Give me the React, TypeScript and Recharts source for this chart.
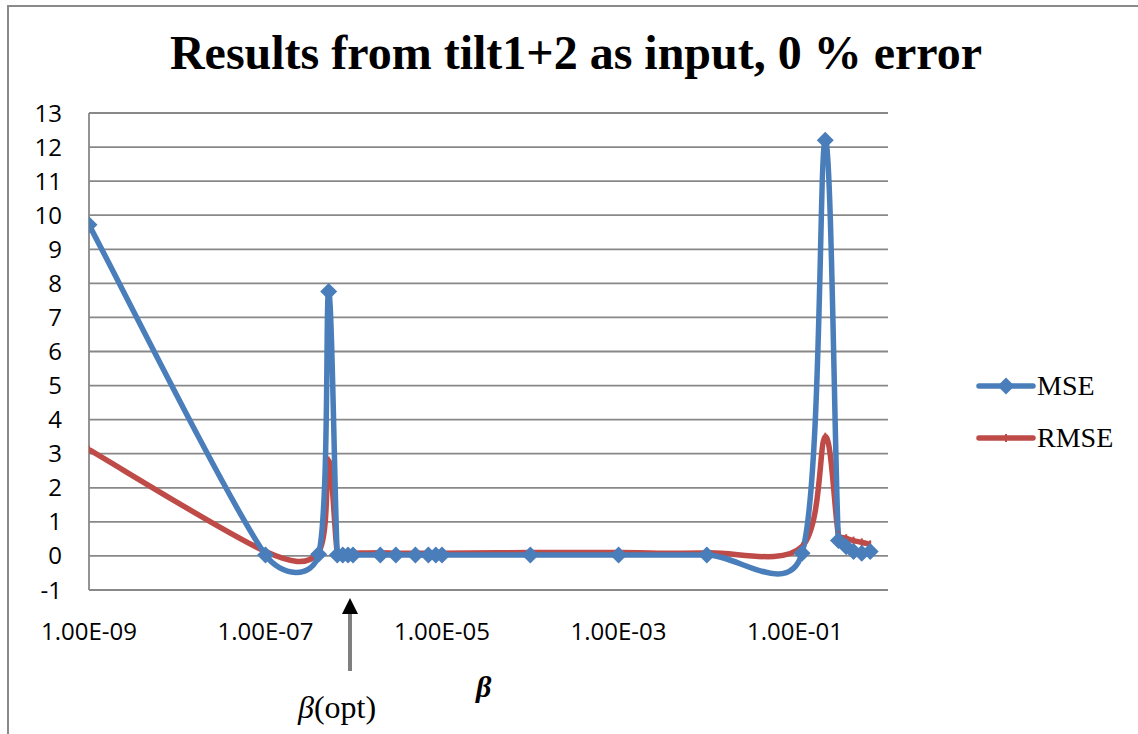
import { CartesianGrid, Line, LineChart, XAxis, YAxis } from 'recharts';

const betas = [
  1e-9, 1e-7, 4e-7, 5.2e-7, 6.5e-7, 7.5e-7, 8.6e-7, 9.8e-7, 2e-6, 3e-6, 5e-6, 7e-6, 8.5e-6, 1e-5,
  1e-4, 1e-3, 1e-2, 0.12, 0.22, 0.31, 0.38, 0.46, 0.57, 0.71,
];
const mseValues = [
  9.72, 0.03, 0.05, 7.76, 0.03, 0.03, 0.03, 0.03, 0.03, 0.03, 0.03, 0.03, 0.03, 0.03,
  0.03, 0.03, 0.03, 0.08, 12.2, 0.45, 0.27, 0.13, 0.08, 0.13,
];
const rmseValues = [
  3.12, 0.13, 0.12, 2.8, 0.08, 0.08, 0.08, 0.08, 0.09, 0.08, 0.08, 0.08, 0.08, 0.08,
  0.1, 0.1, 0.09, 0.28, 3.5, 0.62, 0.52, 0.45, 0.4, 0.34,
];
const xTicks = [1e-9, 1e-7, 1e-5, 1e-3, 1e-1];
const yTicks = [-1, 0, 1, 2, 3, 4, 5, 6, 7, 8, 9, 10, 11, 12, 13];

const data = betas.map((beta, i) => ({ beta, mse: mseValues[i], rmse: rmseValues[i] }));

const blue = '#4a7ebb';
const red = '#be4b48';
const gridColor = '#888888';
const tickFont = { fontFamily: '"Open Sans", sans-serif', fontSize: 24, fill: '#000' };

// excel style smoothing: cardinal bezier, arms capped at half the segment
function excelSmooth(context: any) {
  let pts: number[][] = [];
  const dist = (a: number[], b: number[]) => Math.hypot(b[0] - a[0], b[1] - a[1]);
  return {
    areaStart() {},
    areaEnd() {},
    lineStart() {
      pts = [];
    },
    point(x: number, y: number) {
      pts.push([+x, +y]);
    },
    lineEnd() {
      const n = pts.length;
      if (!n) return;
      context.moveTo(pts[0][0], pts[0][1]);
      for (let i = 0; i < n - 1; i++) {
        const p0 = pts[Math.max(0, i - 1)];
        const p1 = pts[i];
        const p2 = pts[i + 1];
        const p3 = pts[Math.min(n - 1, i + 2)];
        const d12 = dist(p1, p2);
        const d02 = dist(p0, p2);
        const d13 = dist(p1, p3);
        const f1 = d02 > 0 ? Math.min(1 / 6, d12 / (2 * d02)) : 0;
        const f2 = d13 > 0 ? Math.min(1 / 6, d12 / (2 * d13)) : 0;
        context.bezierCurveTo(
          p1[0] + (p2[0] - p0[0]) * f1,
          p1[1] + (p2[1] - p0[1]) * f1,
          p2[0] - (p3[0] - p1[0]) * f2,
          p2[1] - (p3[1] - p1[1]) * f2,
          p2[0],
          p2[1]
        );
      }
    },
  };
}

const formatBeta = (v: number) => {
  const [m, e] = v.toExponential(2).split('e');
  const exp = Number(e);
  const sign = exp < 0 ? '-' : '+';
  return `${m}E${sign}${String(Math.abs(exp)).padStart(2, '0')}`;
};

const diamond = (cx: number, cy: number, r: number) =>
  `M${cx},${cy - r}L${cx + r},${cy}L${cx},${cy + r}L${cx - r},${cy}Z`;

const MseDot = (props: any) => {
  const { cx, cy, index } = props;
  if (cx == null || cy == null) return <g key={`m${index}`} />;
  return <path key={`m${index}`} d={diamond(cx, cy, 8.5)} fill={blue} />;
};

const RmseDot = (props: any) => {
  const { cx, cy, index } = props;
  if (cx == null || cy == null) return <g key={`r${index}`} />;
  return <rect key={`r${index}`} x={cx - 1} y={cy - 4} width={2} height={8} fill={red} />;
};

export default function App() {
  return (
    <div style={{ position: 'absolute', left: 0, top: 0, width: 1138, height: 734, background: '#fff' }}>
      <div
        style={{
          position: 'absolute',
          left: 7,
          top: 5,
          width: 1140,
          height: 740,
          borderLeft: '2px solid #8a8a8a',
          borderTop: '2px solid #8a8a8a',
        }}
      />
      <div
        style={{
          position: 'absolute',
          left: 0,
          top: 23,
          width: 1152,
          textAlign: 'center',
          fontFamily: '"Liberation Serif", "Times New Roman", serif',
          fontWeight: 'bold',
          fontSize: 48,
          lineHeight: '60px',
          color: '#000',
        }}
      >
        Results from tilt1+2 as input, 0 % error
      </div>
      <div style={{ position: 'absolute', left: 0, top: 0 }}>
        <LineChart width={1138} height={734} data={data} margin={{ top: 113, right: 250, bottom: 84, left: 0 }}>
          <CartesianGrid vertical={false} stroke={gridColor} strokeWidth={1.8} />
          <XAxis
            dataKey="beta"
            type="number"
            scale="log"
            domain={[1e-9, 1.13]}
            allowDataOverflow
            ticks={xTicks}
            tickFormatter={formatBeta}
            tickLine={false}
            tickSize={6}
            tickMargin={27}
            height={60}
            axisLine={{ stroke: gridColor, strokeWidth: 1.8 }}
            tick={tickFont}
            interval={0}
          />
          <YAxis
            type="number"
            domain={[-1, 13]}
            ticks={yTicks}
            interval={0}
            tickLine={false}
            tickSize={6}
            tickMargin={21}
            width={89}
            axisLine={{ stroke: gridColor, strokeWidth: 1.8 }}
            tick={tickFont}
          />
          <Line
            dataKey="rmse"
            type={excelSmooth as any}
            stroke={red}
            strokeWidth={5.5}
            dot={RmseDot}
            activeDot={false}
            isAnimationActive={false}
          />
          <Line
            dataKey="mse"
            type={excelSmooth as any}
            stroke={blue}
            strokeWidth={5.5}
            dot={MseDot}
            activeDot={false}
            isAnimationActive={false}
          />
        </LineChart>
      </div>
      {/* legend */}
      <div style={{ position: 'absolute', left: 976, top: 366, fontFamily: '"Liberation Serif", serif', fontSize: 28, color: '#000' }}>
        <div style={{ display: 'flex', alignItems: 'center', height: 40 }}>
          <svg width={60} height={20} style={{ display: 'block' }}>
            <line x1={3} y1={10} x2={57} y2={10} stroke={blue} strokeWidth={5.5} strokeLinecap="round" />
            <path d={diamond(30, 10, 8.5)} fill={blue} />
          </svg>
          <span style={{ marginLeft: 1 }}>MSE</span>
        </div>
        <div style={{ display: 'flex', alignItems: 'center', height: 40, marginTop: 12 }}>
          <svg width={60} height={20} style={{ display: 'block' }}>
            <line x1={3} y1={10} x2={57} y2={10} stroke={red} strokeWidth={5.5} strokeLinecap="round" />
            <rect x={29} y={6} width={2} height={8} fill={red} />
          </svg>
          <span style={{ marginLeft: 1 }}>RMSE</span>
        </div>
      </div>
      {/* axis title */}
      <div
        style={{
          position: 'absolute',
          left: 476,
          top: 670,
          fontFamily: '"Liberation Serif", serif',
          fontStyle: 'italic',
          fontWeight: 'bold',
          fontSize: 30,
          color: '#000',
        }}
      >
        β
      </div>
      {/* optimum marker */}
      <svg width={30} height={80} style={{ position: 'absolute', left: 335, top: 595 }}>
        <line x1={15} y1={16} x2={15} y2={76} stroke="#7f7f7f" strokeWidth={4} />
        <path d="M15,3 L23,19 L7,19 Z" fill="#000" />
      </svg>
      <div
        style={{
          position: 'absolute',
          left: 298,
          top: 689,
          fontFamily: '"Liberation Serif", serif',
          fontSize: 32,
          color: '#000',
          whiteSpace: 'nowrap',
        }}
      >
        <span style={{ fontStyle: 'italic' }}>β</span>(opt)
      </div>
    </div>
  );
}
